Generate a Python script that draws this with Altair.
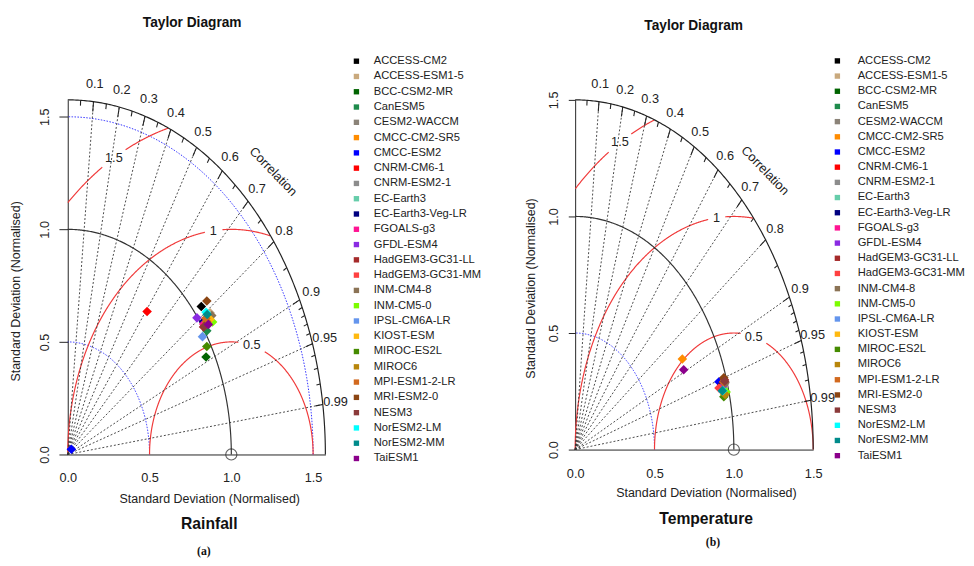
import numpy as np
import pandas as pd
import altair as alt

FONT = "Liberation Sans"

models = ["ACCESS-CM2", "ACCESS-ESM1-5", "BCC-CSM2-MR", "CanESM5", "CESM2-WACCM",
          "CMCC-CM2-SR5", "CMCC-ESM2", "CNRM-CM6-1", "CNRM-ESM2-1", "EC-Earth3",
          "EC-Earth3-Veg-LR", "FGOALS-g3", "GFDL-ESM4", "HadGEM3-GC31-LL", "HadGEM3-GC31-MM",
          "INM-CM4-8", "INM-CM5-0", "IPSL-CM6A-LR", "KIOST-ESM", "MIROC-ES2L",
          "MIROC6", "MPI-ESM1-2-LR", "MRI-ESM2-0", "NESM3", "NorESM2-LM",
          "NorESM2-MM", "TaiESM1"]
colors = ["#000000", "#c9a97d", "#006400", "#1e8b4c", "#8b8378",
          "#ff8c00", "#0000ff", "#ff0000", "#8c8c8c", "#66cdaa",
          "#000080", "#ff1493", "#8a2be2", "#a52a2a", "#ff4040",
          "#8b7355", "#7cfc00", "#6495ed", "#ffb90f", "#458b00",
          "#b8860b", "#d2691e", "#8b4513", "#8b3a3a", "#00ffff",
          "#008b8b", "#8b008b"]

# Rainfall: normalised standard deviation and correlation
rain_sd = [1.048, 1.074, 0.950, 1.012, 1.049, 1.030, 0.032, 0.799, 1.032, 1.050,
           1.018, 1.013, 0.996, 1.005, 1.018, 1.075, 1.063, 0.976, 1.057, 0.976,
           1.035, 1.039, 1.090, 1.011, 1.056, 1.055, 1.036]
rain_cc = [0.779, 0.810, 0.890, 0.840, 0.820, 0.816, 0.690, 0.607, 0.814, 0.814,
           0.815, 0.820, 0.793, 0.826, 0.825, 0.819, 0.833, 0.844, 0.823, 0.871,
           0.821, 0.813, 0.780, 0.826, 0.801, 0.808, 0.830]
# Temperature
temp_sd = [0.971, 0.973, 0.973, 0.966, 0.981, 0.779, 0.952, 0.959, 0.970, 0.970,
           0.966, 0.956, 0.968, 0.987, 0.944, 0.987, 0.983, 0.963, 0.970, 0.964,
           0.974, 0.979, 0.986, 0.987, 0.964, 0.961, 0.765]
temp_cc = [0.958, 0.961, 0.966, 0.963, 0.958, 0.867, 0.952, 0.960, 0.959, 0.963,
           0.957, 0.962, 0.960, 0.953, 0.960, 0.957, 0.968, 0.966, 0.969, 0.972,
           0.970, 0.955, 0.950, 0.955, 0.965, 0.965, 0.894]

corr_major = [0.1, 0.2, 0.3, 0.4, 0.5, 0.6, 0.7, 0.8, 0.9, 0.95, 0.99]
corr_major_lbl = ["0.1", "0.2", "0.3", "0.4", "0.5", "0.6", "0.7", "0.8", "0.9", "0.95", "0.99"]
corr_minor = [0.05, 0.15, 0.25, 0.35, 0.45, 0.55, 0.65, 0.75, 0.85,
              0.91, 0.92, 0.93, 0.94, 0.96, 0.97, 0.98]
rms_levels = [0.5, 1.0, 1.5]
rms_lbl = ["0.5", "1", "1.5"]
rms_lbl_angle = [75.5, 96.3, 118.6]
axis_ticks = [0.0, 0.5, 1.0, 1.5]


def arc(cx, r, t0, t1, n=240):
    t = np.radians(np.linspace(t0, t1, n))
    return cx + r * np.cos(t), r * np.sin(t)


def panel(sd, cc, cfg):
    R = cfg["R"]
    xs = alt.Scale(domain=[0, R], nice=False, zero=False)
    ys = alt.Scale(domain=[0, R], nice=False, zero=False)
    xaxis = alt.Axis(values=axis_ticks, format=".1f", ticks=False, labelFlush=False,
                     labelPadding=cfg["xlabpad"], labelFontSize=13, labelFont=FONT,
                     labelColor="#222", domainColor="#222", grid=False,
                     title="Standard Deviation (Normalised)", titleFont=FONT,
                     titleFontSize=12.7, titleFontWeight="normal", titleColor="#222",
                     titleX=cfg["xtitle"][0], titleY=cfg["xtitle"][1],
                     titleAlign="center", titleBaseline="middle")
    yaxis = alt.Axis(values=axis_ticks, format=".1f", tickSize=cfg["ytick"],
                     tickColor="#222", labelPadding=cfg["ylabpad"], labelAngle=270,
                     labelAlign="center", labelBaseline="bottom", labelFontSize=13,
                     labelFont=FONT, labelColor="#222", domainColor="#222", grid=False,
                     title="Standard Deviation (Normalised)", titleFont=FONT,
                     titleFontSize=12.7, titleFontWeight="normal", titleColor="#222",
                     titleAngle=270, titleX=cfg["ytitle"][0], titleY=cfg["ytitle"][1],
                     titleAlign="center", titleBaseline="middle")

    def X(f="x"):
        return alt.X(f"{f}:Q", scale=xs, axis=xaxis)

    def Y(f="y"):
        return alt.Y(f"{f}:Q", scale=ys, axis=yaxis)

    # SD arcs
    blue = []
    for k, r in enumerate(cfg["blue"]):
        x, y = arc(0, r, 0, 90)
        blue.append(pd.DataFrame({"x": x, "y": y, "seg": k, "i": np.arange(len(x))}))
    blue = pd.concat(blue)
    ox, oy = arc(0, R, 0, 90)
    outer = pd.DataFrame({"x": ox, "y": oy, "i": np.arange(len(ox))})
    rx, ry = arc(0, 1.0, 0, 90)
    ref = pd.DataFrame({"x": rx, "y": ry, "i": np.arange(len(rx))})

    # RMS arcs centred on the reference point
    red = []
    seg = 0
    for r, a in zip(rms_levels, rms_lbl_angle):
        t = np.linspace(0, 180, 900)
        x = 1 + r * np.cos(np.radians(t))
        y = r * np.sin(np.radians(t))
        gap = 9.5 if r == 0.5 else 3.0
        keep = (x >= 0) & (x ** 2 + y ** 2 <= R ** 2 + 1e-9) & (np.abs(t - a) > gap)
        idx = np.where(keep)[0]
        if len(idx) == 0:
            continue
        runs = np.split(idx, np.where(np.diff(idx) > 1)[0] + 1)
        for run in runs:
            red.append(pd.DataFrame({"x": x[run], "y": y[run], "seg": seg,
                                     "i": np.arange(len(run))}))
            seg += 1
    red = pd.concat(red)
    rms_txt = pd.DataFrame({"t": rms_lbl,
                            "x": [1 + r * np.cos(np.radians(a)) for r, a in zip(rms_levels, rms_lbl_angle)],
                            "y": [r * np.sin(np.radians(a)) for r, a in zip(rms_levels, rms_lbl_angle)]})

    cmaj = np.array(corr_major)
    cmin = np.array(corr_minor)
    rays = pd.DataFrame({"x": 0.0, "y": 0.0, "x2": R * cmaj, "y2": R * np.sqrt(1 - cmaj ** 2)})
    ticks = pd.concat([
        pd.DataFrame({"x": R * cmaj, "y": R * np.sqrt(1 - cmaj ** 2),
                      "x2": R * 0.972 * cmaj, "y2": R * 0.972 * np.sqrt(1 - cmaj ** 2)}),
        pd.DataFrame({"x": R * cmin, "y": R * np.sqrt(1 - cmin ** 2),
                      "x2": R * 0.985 * cmin, "y2": R * 0.985 * np.sqrt(1 - cmin ** 2)}),
    ])
    clab = pd.DataFrame({"t": corr_major_lbl, "x": 1.05 * R * cmaj,
                         "y": 1.05 * R * np.sqrt(1 - cmaj ** 2)})
    ctitle = pd.DataFrame({"t": ["Correlation"], "x": [1.128 * R / np.sqrt(2)],
                           "y": [1.128 * R / np.sqrt(2)]})
    refpt = pd.DataFrame({"x": [1.0], "y": [0.0]})

    pts = pd.DataFrame({"model": models, "sd": sd, "corr": cc})
    pts["x"] = pts["sd"] * pts["corr"]
    pts["y"] = pts["sd"] * np.sqrt(1 - pts["corr"] ** 2)
    pts["o"] = np.arange(len(pts))

    layers = [
        alt.Chart(blue).mark_line(color="#2b2bff", strokeWidth=1, strokeDash=[1.5, 1.5]).encode(
            x=X(), y=Y(), detail="seg:N", order="i:Q"),
        alt.Chart(red).mark_line(color="#f03a3a", strokeWidth=1.2).encode(
            x=X(), y=Y(), detail="seg:N", order="i:Q"),
        alt.Chart(rays).mark_rule(color="#333", strokeWidth=0.9, strokeDash=[2, 2]).encode(
            x=X(), y=Y(), x2="x2:Q", y2="y2:Q"),
        alt.Chart(ref).mark_line(color="#333", strokeWidth=1.2).encode(x=X(), y=Y(), order="i:Q"),
        alt.Chart(outer).mark_line(color="#222", strokeWidth=1.2).encode(x=X(), y=Y(), order="i:Q"),
        alt.Chart(ticks).mark_rule(color="#222", strokeWidth=1.1).encode(
            x=X(), y=Y(), x2="x2:Q", y2="y2:Q"),
        alt.Chart(clab).mark_text(font=FONT, fontSize=13, color="#222").encode(
            x=X(), y=Y(), text="t:N"),
        alt.Chart(ctitle).mark_text(font=FONT, fontSize=13, color="#222", angle=46).encode(
            x=X(), y=Y(), text="t:N"),
        alt.Chart(rms_txt).mark_text(font=FONT, fontSize=13, color="#222").encode(
            x=X(), y=Y(), text="t:N"),
        alt.Chart(refpt).mark_point(shape="circle", size=130, color="#222", strokeWidth=1.1,
                                    filled=False).encode(x=X(), y=Y()),
        alt.Chart(pts).mark_point(shape="diamond", filled=True, size=95, opacity=1).encode(
            x=X(), y=Y(), order="o:Q",
            color=alt.Color("model:N", scale=alt.Scale(domain=models, range=colors),
                            legend=alt.Legend(orient="none", legendX=cfg["leg"][0],
                                              legendY=cfg["leg"][1], title=None,
                                              symbolType="square", symbolSize=30,
                                              symbolStrokeWidth=0, labelFontSize=11.4,
                                              labelFont=FONT, labelColor="#222",
                                              labelOffset=cfg["leg"][2],
                                              rowPadding=cfg["leg"][3], padding=0,
                                              labelLimit=200, symbolLimit=40))),
        alt.Chart(pd.DataFrame({"t": ["Taylor Diagram"]})).mark_text(
            font=FONT, fontSize=14, fontWeight="bold", color="#111").encode(
            text="t:N", x=alt.value(cfg["main"][0]), y=alt.value(cfg["main"][1])),
        alt.Chart(pd.DataFrame({"t": [cfg["name"]]})).mark_text(
            font=FONT, fontSize=16, fontWeight="bold", color="#111").encode(
            text="t:N", x=alt.value(cfg["sub"][0]), y=alt.value(cfg["sub"][1])),
        alt.Chart(pd.DataFrame({"t": [cfg["tag"]]})).mark_text(
            font="Liberation Serif", fontSize=12, fontWeight="bold", color="#111").encode(
            text="t:N", x=alt.value(cfg["tagpos"][0]), y=alt.value(cfg["tagpos"][1])),
    ]
    return alt.layer(*layers).properties(width=cfg["W"], height=cfg["H"])


left_cfg = dict(R=1.575, W=263, H=362, ytick=9, ylabpad=7.5, xlabpad=17.5,
                xtitle=(144.5, 44.7), ytitle=(-53, 195), leg=(289, -45.2, 12, 2.6),
                blue=[0.5, 1.5], main=(127, -78), name="Rainfall", sub=(144.5, 433),
                tag="(a)", tagpos=(139, 461))
right_cfg = dict(R=1.5, W=243, H=357, ytick=7, ylabpad=8.2, xlabpad=18,
                 xtitle=(133.5, 44.4), ytitle=(-45, 192), leg=(262, -45.5, 15, 2.5),
                 blue=[0.5], main=(121, -75), name="Temperature", sub=(133.7, 428),
                 tag="(b)", tagpos=(140.7, 451.4))

chart = alt.hconcat(panel(rain_sd, rain_cc, left_cfg), panel(temp_sd, temp_cc, right_cfg),
                    spacing=43).resolve_scale(
    x="independent", y="independent", color="independent").properties(
    padding={"left": 1, "top": 2, "right": 0, "bottom": 0}).configure_view(stroke="transparent")

chart.save("out.html", embed_options={"renderer": "svg", "actions": False})
